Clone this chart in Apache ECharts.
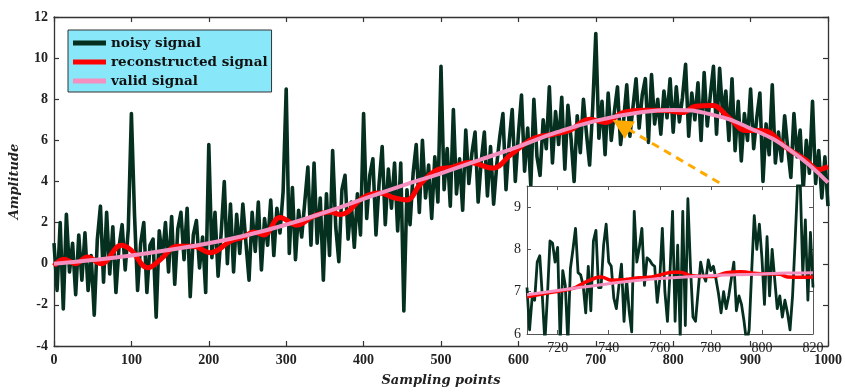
<!DOCTYPE html>
<html>
<head>
<meta charset="utf-8">
<script src="https://cdn.jsdelivr.net/npm/echarts@6/dist/echarts.min.js"></script>
<style>
  html, body { margin: 0; padding: 0; background: #fff; }
  #chart { width: 845px; height: 392px; }
</style>
</head>
<body>
<div id="chart"></div>
<script>
// ---- data -------------------------------------------------------------
// Noisy measurement, one value every 4 samples (0 ... 1000)
const noisyStep = 4;
const noisySignal = [
  1.0, -1.3, 2.0, -2.2, 2.4, -0.4, 1.0, -1.5, 1.4, -0.8, 1.5, -1.3, 0.4,
  -2.5, 1.2, 2.8, -0.9, 2.5, -0.5, 1.8, -1.4, 0.8, 1.9, -0.3, 1.7, 7.3,
  2.4, -1.3, 1.0, 2.0, -1.4, 0.9, 1.2, -2.6, 1.6, 0.3, 2.0, -0.4,
  2.3, -1.0, 1.7, 2.5, 0.2, 2.7, -1.6, 1.4, 2.1, -0.2, 1.3, -1.4, 5.8,
  0.3, 2.5, -0.6, 1.5, 4.0, 0.0, 2.9, -0.4, 2.4, 0.5, 2.9, 1.0,
  -0.8, 2.5, 0.6, 3.0, -0.3, 2.2, 0.9, 3.1, 0.4, 2.7, 1.5, 3.5, 8.5,
  0.5, 3.7, 0.2, 2.6, 1.3, 3.0, 4.7, 0.9, 4.9, 1.0, 3.2, -0.8,
  3.4, 0.4, 5.5, 1.8, 0.1, 3.6, 4.3, 1.2, 3.0, 0.8, 3.4, 1.4, 7.3,
  2.2, 4.3, 5.1, 1.4, 3.9, 5.7, 1.9, 4.6, 2.7, 4.9, 1.6, 4.9,
  -2.3, 3.6, 1.9, 4.4, 5.8, 2.5, 6.0, 3.2, 4.8, 2.2, 5.2, 3.0, 9.6,
  3.6, 5.6, 2.8, 7.5, 3.4, 5.1, 2.6, 6.5, 3.9, 5.4, 6.4, 3.0,
  5.0, 6.4, 3.3, 5.7, 2.9, 4.8, 6.2, 7.3, 3.6, 5.9, 7.5, 4.0, 6.3,
  8.2, 4.5, 6.6, 3.8, 8.0, 5.2, 4.3, 7.0, 5.6, 8.6, 4.9, 7.4,
  5.8, 8.1, 4.6, 7.7, 6.1, 4.0, 7.2, 5.4, 8.0, 6.3, 4.8, 7.6, 11.2,
  6.1, 7.9, 5.3, 8.3, 6.0, 7.4, 8.6, 5.8, 7.0, 8.7, 6.2, 7.6,
  9.0, 6.6, 8.2, 9.0, 5.9, 9.2, 6.8, 8.0, 6.3, 8.4, 7.1, 9.0, 6.4,
  8.6, 6.9, 8.1, 9.7, 6.2, 8.3, 7.0, 8.8, 6.0, 9.3, 6.7, 8.2,
  9.6, 6.3, 9.5, 7.2, 8.4, 6.0, 9.0, 5.5, 7.9, 5.0, 7.3, 6.0, 8.5,
  5.6, 7.1, 8.3, 4.0, 6.8, 5.3, 8.7, 4.9, 6.4, 5.0, 7.2, 5.6,
  4.2, 7.3, 5.2, 6.5, 3.6, 6.0, 4.4, 7.9, 3.9, 5.5, 3.2, 5.2, 2.8
];

// Reconstructed signal, [sample, amplitude]
const reconstructedSignal = [
  [0, -0.1], [13, 0.22], [28, 0.0], [43, 0.33], [61, 0.0], [87, 0.9], [100, 0.65],
  [121, -0.2], [138, 0.22], [159, 0.85], [180, 0.85], [202, 0.54], [228, 1.09],
  [245, 1.3], [258, 1.55], [271, 1.4], [292, 2.25], [314, 1.88], [335, 2.3],
  [357, 2.52], [370, 2.39], [400, 3.23], [421, 3.44], [440, 3.2], [456, 3.1],
  [473, 3.86], [494, 4.55], [515, 4.7], [537, 4.92], [567, 4.65], [590, 5.3],
  [619, 6.08], [645, 6.3], [666, 6.48], [692, 7.03], [713, 6.87], [735, 7.35],
  [765, 7.46], [790, 7.45], [812, 7.35], [829, 7.66], [851, 7.69], [872, 7.1],
  [894, 6.48], [911, 6.48], [924, 6.4], [945, 5.68], [971, 5.05], [988, 4.58], [1000, 4.73]
];

// Clean reference signal, [sample, amplitude]
const validSignal = [
  [0, 0.0], [50, 0.18], [100, 0.4], [150, 0.68], [200, 1.0], [250, 1.4], [300, 1.9],
  [350, 2.5], [400, 3.15], [450, 3.8], [500, 4.4], [550, 5.05], [600, 5.7],
  [650, 6.4], [700, 6.95], [750, 7.32], [800, 7.48], [850, 7.25], [900, 6.58],
  [950, 5.55], [1000, 3.95]
];

// Zoomed detail: one value per sample from 708 to 820
const insetStart = 708;
const insetNoisy = [
  7.1, 6.1, 6.85, 6.8, 7.7, 7.85, 6.9, 5.8, 6.9, 8.2,
  8.15, 7.7, 8.05, 5.8, 7.5, 7.15, 5.8, 7.55, 8.0, 8.5,
  7.45, 7.4, 7.15, 6.5, 7.6, 6.55, 8.2, 8.45, 7.1, 7.1,
  8.1, 8.6, 7.7, 7.6, 6.85, 6.6, 7.15, 7.65, 6.3, 7.3,
  6.55, 6.05, 8.9, 7.7, 8.05, 8.5, 7.15, 7.8, 7.75, 7.65,
  7.6, 6.75, 7.3, 8.5, 7.0, 6.3, 7.45, 8.9, 6.3, 8.1,
  5.9, 8.9, 6.2, 9.2, 7.6, 6.4, 6.3, 7.0, 7.7, 7.4,
  7.25, 7.75, 7.5, 7.6, 7.3, 6.95, 6.5, 7.0, 6.6, 6.9,
  7.3, 7.7, 6.55, 6.9, 6.7, 6.3, 5.8, 6.1, 7.5, 8.8,
  8.0, 8.6, 7.8, 6.7, 8.3, 6.9, 8.0, 7.3, 6.6, 6.9,
  6.4, 6.8, 6.5, 6.1, 6.9, 8.2, 9.6, 9.6, 7.4, 8.7,
  6.8, 8.4, 7.1
];
const insetReconstructed = [
  [708, 6.88], [716, 6.97], [726, 7.08], [730, 7.2], [735, 7.33], [737, 7.35],
  [741, 7.27], [747, 7.29], [752, 7.33], [757, 7.35], [761, 7.41], [765, 7.46],
  [768, 7.46], [772, 7.38], [781, 7.36], [786, 7.45], [792, 7.47], [798, 7.43],
  [807, 7.41], [810, 7.35], [816, 7.34], [820, 7.35]
];
const insetValid = [
  [708, 6.93], [720, 7.03], [730, 7.11], [740, 7.19], [750, 7.26], [760, 7.31],
  [770, 7.35], [780, 7.38], [790, 7.4], [800, 7.42], [810, 7.44], [820, 7.45]
];
const insetXTicks = [720, 740, 760, 780, 800, 820];
const insetYTicks = [6, 7, 8, 9];

// Dashed pointer from the detail box to the zoomed region
const arrowFrom = [859.5, 3.94];
const arrowTo = [733, 6.74];

const seriesNames = ['noisy signal', 'reconstructed signal', 'valid signal'];

// ---- style ------------------------------------------------------------
const C_NOISY = '#05301f';
const C_REC = '#ff0000';
const C_VALID = '#f48fc0';
const SERIF = '"Liberation Serif", "DejaVu Serif", serif';
const SERIF_WIDE = '"DejaVu Serif", "Liberation Serif", serif';
const AXIS_COLOR = '#333';
const plain = v => String(v);

const noisyData = noisySignal.map((v, i) => [i * noisyStep, v]);
const insetNoisyData = insetNoisy.map((v, i) => [insetStart + i, v]);

function frameAxis(extra) {
  return Object.assign({
    type: 'value',
    axisLine: { show: true, onZero: false, lineStyle: { color: AXIS_COLOR, width: 1.3 } },
    axisTick: { show: true, inside: true, length: 5, lineStyle: { color: AXIS_COLOR, width: 1.2 } },
    axisLabel: { show: false },
    splitLine: { show: false }
  }, extra);
}

const mainLabel = { show: true, fontFamily: SERIF, fontWeight: 'bold', fontSize: 14, color: '#222', margin: 7, formatter: plain };
const insetLabel = { fontFamily: SERIF, fontSize: 14, color: '#222', formatter: plain };
const titleStyle = { fontFamily: SERIF_WIDE, fontStyle: 'italic', fontWeight: 'bold', fontSize: 13, color: '#222' };

const chart = echarts.init(document.getElementById('chart'), null, { renderer: 'canvas' });

chart.setOption({
  animation: false,
  backgroundColor: '#fff',
  legend: {
    data: seriesNames,
    orient: 'vertical',
    left: 68,
    top: 30,
    z: 10,
    padding: [6, 4, 4, 5],
    itemGap: 5,
    itemWidth: 33,
    itemHeight: 5,
    icon: 'rect',
    backgroundColor: '#88e8fa',
    borderColor: '#333',
    borderWidth: 1,
    selectedMode: false,
    textStyle: { fontFamily: SERIF_WIDE, fontWeight: 'bold', fontSize: 13.5, color: '#111', lineHeight: 14 }
  },
  grid: [
    { left: 53, right: 16, top: 17, bottom: 38, show: false },
    { left: 527, width: 286, top: 186, height: 148, show: true, backgroundColor: '#fff', borderWidth: 0, z: 5 }
  ],
  xAxis: [
    frameAxis({
      gridIndex: 0, min: 0, max: 1000, interval: 100, position: 'bottom',
      axisLabel: mainLabel,
      name: 'Sampling points', nameLocation: 'middle', nameGap: 28, nameTextStyle: titleStyle
    }),
    frameAxis({ gridIndex: 0, min: 0, max: 1000, interval: 100, position: 'top' }),
    frameAxis({
      gridIndex: 1, min: insetStart, max: 820, position: 'bottom', z: 6,
      axisLine: { show: true, onZero: false, lineStyle: { color: '#555', width: 1 } },
      axisTick: { show: true, inside: true, length: 4, customValues: insetXTicks, lineStyle: { color: '#555' } },
      axisLabel: Object.assign({ show: true, margin: 7, customValues: insetXTicks }, insetLabel)
    }),
    frameAxis({
      gridIndex: 1, min: insetStart, max: 820, position: 'top', z: 6,
      axisLine: { show: true, onZero: false, lineStyle: { color: '#555', width: 1 } },
      axisTick: { show: true, inside: true, length: 4, customValues: insetXTicks, lineStyle: { color: '#555' } }
    })
  ],
  yAxis: [
    frameAxis({
      gridIndex: 0, min: -4, max: 12, interval: 2, position: 'left',
      axisLabel: Object.assign({}, mainLabel, { margin: 6 }),
      name: 'Amplitude', nameLocation: 'middle', nameGap: 33, nameTextStyle: titleStyle
    }),
    frameAxis({ gridIndex: 0, min: -4, max: 12, interval: 2, position: 'right' }),
    frameAxis({
      gridIndex: 1, min: 6, max: 9.5, position: 'left', z: 6,
      axisLine: { show: true, onZero: false, lineStyle: { color: '#555', width: 1 } },
      axisTick: { show: true, inside: true, length: 4, customValues: insetYTicks, lineStyle: { color: '#555' } },
      axisLabel: Object.assign({ show: true, margin: 6, customValues: insetYTicks }, insetLabel)
    }),
    frameAxis({
      gridIndex: 1, min: 6, max: 9.5, position: 'right', z: 6,
      axisLine: { show: true, onZero: false, lineStyle: { color: '#555', width: 1 } },
      axisTick: { show: true, inside: true, length: 4, customValues: insetYTicks, lineStyle: { color: '#555' } }
    })
  ],
  series: [
    {
      name: seriesNames[0], type: 'line', xAxisIndex: 0, yAxisIndex: 0, z: 2,
      data: noisyData, showSymbol: false, silent: true,
      itemStyle: { color: C_NOISY },
      lineStyle: { color: C_NOISY, width: 3.6, join: 'round' }
    },
    {
      name: seriesNames[1], type: 'line', xAxisIndex: 0, yAxisIndex: 0, z: 3,
      data: reconstructedSignal, smooth: 0.4, showSymbol: false, silent: true,
      itemStyle: { color: C_REC },
      lineStyle: { color: C_REC, width: 5 }
    },
    {
      name: seriesNames[2], type: 'line', xAxisIndex: 0, yAxisIndex: 0, z: 4,
      data: validSignal, smooth: 0.5, showSymbol: false, silent: true,
      itemStyle: { color: C_VALID },
      lineStyle: { color: C_VALID, width: 4 }
    },
    {
      name: 'pointer', type: 'line', xAxisIndex: 0, yAxisIndex: 0, z: 4,
      data: [], silent: true,
      markLine: {
        silent: true,
        symbol: ['none', 'triangle'],
        symbolSize: [20, 20],
        label: { show: false },
        lineStyle: { color: '#ffaa00', width: 3, type: [8, 6] },
        itemStyle: { color: '#ffaa00' },
        data: [[{ coord: arrowFrom }, { coord: arrowTo }]]
      }
    },
    {
      name: seriesNames[0], type: 'line', xAxisIndex: 2, yAxisIndex: 2, z: 7,
      data: insetNoisyData, showSymbol: false, silent: true,
      itemStyle: { color: C_NOISY },
      lineStyle: { color: C_NOISY, width: 2.8, join: 'round' }
    },
    {
      name: seriesNames[1], type: 'line', xAxisIndex: 2, yAxisIndex: 2, z: 8,
      data: insetReconstructed, smooth: 0.4, showSymbol: false, silent: true,
      itemStyle: { color: C_REC },
      lineStyle: { color: C_REC, width: 3.5 }
    },
    {
      name: seriesNames[2], type: 'line', xAxisIndex: 2, yAxisIndex: 2, z: 9,
      data: insetValid, smooth: 0.5, showSymbol: false, silent: true,
      itemStyle: { color: C_VALID },
      lineStyle: { color: C_VALID, width: 3 }
    }
  ]
});
</script>
</body>
</html>
